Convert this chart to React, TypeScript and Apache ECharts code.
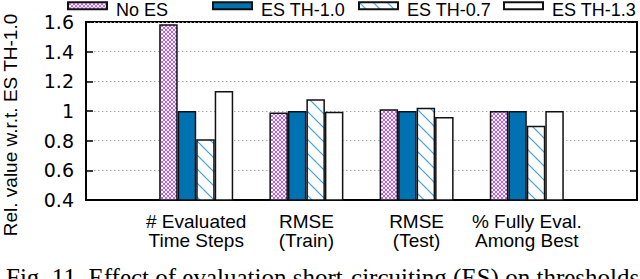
import React, { useEffect, useRef } from 'react';
import * as echarts from 'echarts';

const categories = ['', '# Evaluated\nTime Steps', 'RMSE\n(Train)', 'RMSE\n(Test)', '% Fully Eval.\nAmong Best', ''];
const seriesNames = ['No ES', 'ES TH-1.0', 'ES TH-0.7', 'ES TH-1.3'];
const noES = [1.585, 0.99, 1.012, 1.0];
const esTh10 = [1.0, 1.0, 1.0, 1.0];
const esTh07 = [0.81, 1.08, 1.022, 0.9];
const esTh13 = [1.135, 0.995, 0.96, 1.0];
const yMin = 0.4;
const yMax = 1.6;
const yInterval = 0.2;
const yTitle = 'Rel. value w.r.t. ES TH-1.0';
const caption = 'Fig. 11. Effect of evaluation short-circuiting (ES) on thresholds';

const FONT = '"Liberation Sans", Arial, Helvetica, sans-serif';
const legendLefts = [67, 212, 358, 503];

function pad(vals: number[]) {
  return ['-', ...vals, '-'];
}

function makeChecker(): HTMLCanvasElement {
  const c = document.createElement('canvas');
  c.width = 4;
  c.height = 4;
  const ctx = c.getContext('2d')!;
  ctx.fillStyle = '#ffffff';
  ctx.fillRect(0, 0, 4, 4);
  ctx.fillStyle = '#c25cf0';
  const pts = [[0, 0], [1, 1], [2, 2], [3, 3], [3, 0], [2, 1], [1, 2], [0, 3]];
  pts.forEach(([x, y]) => ctx.fillRect(x, y, 1, 1));
  return c;
}

function makeStripes(): HTMLCanvasElement {
  const s = 14;
  const c = document.createElement('canvas');
  c.width = s;
  c.height = s;
  const ctx = c.getContext('2d')!;
  ctx.fillStyle = '#ffffff';
  ctx.fillRect(0, 0, s, s);
  ctx.strokeStyle = '#3d9fe0';
  ctx.lineWidth = 1.2;
  for (let k = -1; k <= 1; k++) {
    ctx.beginPath();
    ctx.moveTo(k * s - 2, -2);
    ctx.lineTo(k * s + s + 2, s + 2);
    ctx.stroke();
  }
  return c;
}

export default function App() {
  const ref = useRef<HTMLDivElement>(null);
  useEffect(() => {
    if (!ref.current) return;
    const chart = echarts.init(ref.current, undefined, { renderer: 'svg' });
    const checker = makeChecker();
    const stripes = makeStripes();
    const border = { borderColor: '#111', borderWidth: 1.5 };
    const fills: any[] = [
      { image: checker, repeat: 'repeat' },
      '#0072b2',
      { image: stripes, repeat: 'repeat' },
      '#ffffff',
    ];
    const datas = [noES, esTh10, esTh07, esTh13];
    chart.setOption({
      animation: false,
      grid: {
        left: 86,
        right: 2,
        top: 22,
        bottom: 79,
        show: true,
        borderColor: '#000',
        borderWidth: 1.8,
        backgroundColor: 'transparent',
      },
      legend: seriesNames.map((name, i) => ({
        left: legendLefts[i],
        top: -7.8,
        padding: 0,
        itemWidth: 39,
        itemHeight: 7,
        itemGap: 0,
        icon: 'rect',
        data: [name],
        formatter: '\n{t|{name}}',
        textStyle: {
          color: '#000',
          fontSize: 9,
          lineHeight: 9,
          rich: {
            t: {
              fontSize: 18,
              lineHeight: 18,
              fontFamily: FONT,
              color: '#000',
              padding: [0, 0, 0, 4],
            },
          },
        },
      })),
      xAxis: {
        type: 'category',
        data: categories,
        boundaryGap: false,
        axisLine: { show: true, lineStyle: { color: '#000', width: 1.8 } },
        axisTick: { show: false },
        axisLabel: {
          interval: 0,
          fontSize: 19,
          lineHeight: 19,
          margin: 12,
          color: '#000',
          fontFamily: FONT,
        },
        splitLine: { show: false },
      },
      yAxis: [
        {
          type: 'value',
          min: yMin,
          max: yMax,
          interval: yInterval,
          axisLine: { show: true, lineStyle: { color: '#000', width: 1.8 } },
          axisTick: { show: true, inside: true, length: 7, lineStyle: { color: '#000', width: 1.5 } },
          axisLabel: {
            fontSize: 19,
            margin: 12,
            color: '#000',
            fontFamily: '"DejaVu Sans", sans-serif',
          },
          splitLine: { show: true, lineStyle: { color: '#aaaaaa', type: [1.5, 2.5], width: 1 } },
        },
        {
          type: 'value',
          position: 'right',
          min: yMin,
          max: yMax,
          interval: yInterval,
          axisLine: { show: true, lineStyle: { color: '#000', width: 1.8 } },
          axisTick: { show: true, inside: true, length: 7, lineStyle: { color: '#000', width: 1.5 } },
          axisLabel: { show: false },
          splitLine: { show: false },
        },
      ],
      series: seriesNames.map((name, i) => ({
        name,
        type: 'bar',
        yAxisIndex: 0,
        barWidth: 18.5,
        barGap: '0%',
        data: pad(datas[i]),
        itemStyle: { color: fills[i], ...border },
        emphasis: { disabled: true },
      })),
      graphic: [
        {
          type: 'text',
          x: 10,
          y: 125,
          rotation: Math.PI / 2,
          style: {
            text: yTitle,
            fontSize: 19,
            fontFamily: FONT,
            fill: '#000',
            align: 'center',
            verticalAlign: 'middle',
          },
        },
        {
          type: 'text',
          x: 6,
          y: 277,
          style: {
            text: caption,
            fontSize: 25,
            fontFamily: '"Liberation Serif", "Times New Roman", serif',
            fill: '#000',
            align: 'left',
            verticalAlign: 'middle',
          },
        },
      ],
    });
    return () => chart.dispose();
  }, []);
  return (
    <div
      ref={ref}
      style={{ width: 640, height: 279, position: 'absolute', left: 0, top: 0 }}
    />
  );
}
